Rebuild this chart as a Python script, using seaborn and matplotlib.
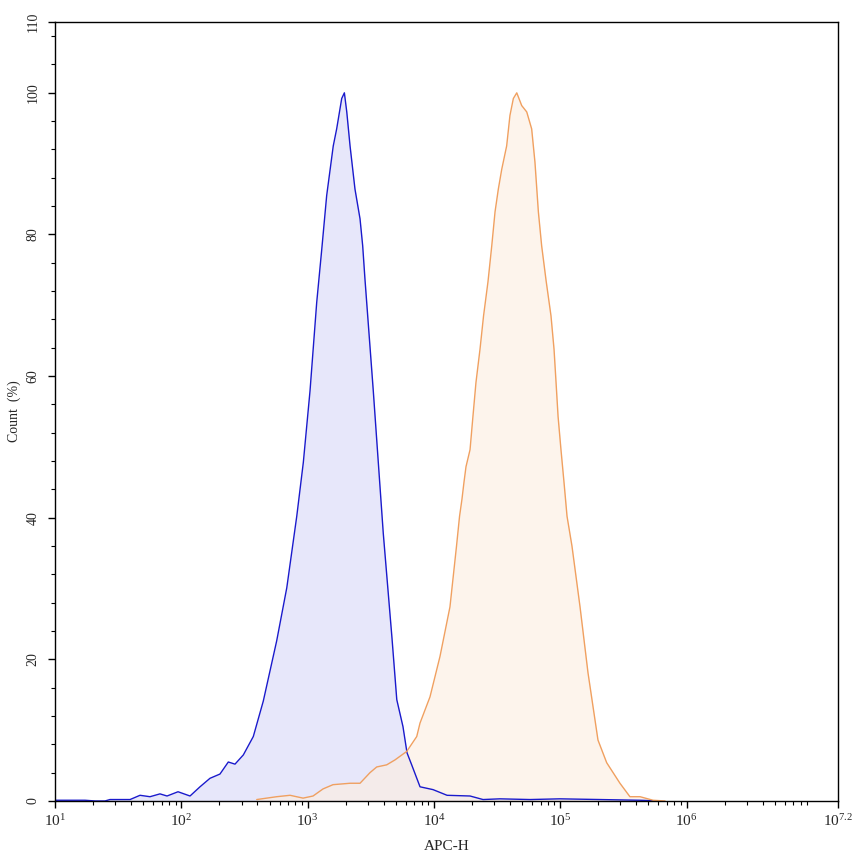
import numpy as np
import pandas as pd
import seaborn as sns
import matplotlib.pyplot as plt
from matplotlib.ticker import FixedLocator, LogLocator, MultipleLocator, NullFormatter

# curve values: log10(APC-H) and Count (%)
blue_log = [1.000, 1.119, 1.238, 1.317, 1.396, 1.435, 1.594, 1.673, 1.752, 1.831, 1.887, 1.974,
            2.069, 2.148, 2.227, 2.306, 2.372, 2.425, 2.491, 2.570, 2.649, 2.755, 2.835, 2.914,
            2.966, 3.019, 3.072, 3.112, 3.151, 3.203, 3.230, 3.270, 3.291, 3.310, 3.336, 3.375,
            3.415, 3.436, 3.454, 3.520, 3.599, 3.668, 3.706, 3.755, 3.787, 3.824, 3.890, 3.993,
            4.104, 4.286, 4.389, 4.523, 4.761, 4.998, 5.315, 5.632, 5.790]
blue_val = [0.1, 0.1, 0.1, 0.0, 0.0, 0.2, 0.2, 0.8, 0.6, 1.0, 0.7, 1.3,
            0.7, 2.0, 3.2, 3.8, 5.5, 5.2, 6.5, 9.1, 14.1, 22.6, 30.1, 40.2,
            47.8, 57.9, 70.4, 77.9, 85.5, 92.5, 94.9, 99.2, 100.0, 97.3, 92.5, 86.4,
            82.2, 78.4, 73.7, 57.9, 37.8, 23.0, 14.3, 10.5, 6.8, 5.1, 2.0, 1.6,
            0.8, 0.7, 0.2, 0.3, 0.2, 0.3, 0.2, 0.1, 0.0]

orange_log = [2.597, 2.755, 2.861, 2.964, 3.043, 3.122, 3.201, 3.336, 3.415, 3.494, 3.547, 3.626,
              3.692, 3.785, 3.864, 3.890, 3.969, 4.048, 4.127, 4.179, 4.203, 4.222, 4.238, 4.254,
              4.286, 4.309, 4.333, 4.365, 4.393, 4.428, 4.458, 4.484, 4.510, 4.537, 4.576, 4.602,
              4.629, 4.656, 4.695, 4.735, 4.774, 4.800, 4.827, 4.853, 4.888, 4.927, 4.951, 4.967,
              4.983, 5.006, 5.030, 5.054, 5.093, 5.157, 5.220, 5.299, 5.368, 5.473, 5.552, 5.632,
              5.735, 5.830]
orange_val = [0.2, 0.6, 0.8, 0.4, 0.7, 1.7, 2.3, 2.5, 2.5, 4.0, 4.8, 5.1,
              5.8, 7.0, 9.1, 11.0, 14.7, 20.4, 27.4, 36.0, 40.2, 42.6, 45.0, 47.2,
              49.6, 54.3, 59.1, 63.8, 68.5, 73.3, 78.4, 83.2, 86.4, 89.2, 92.5, 96.8,
              99.2, 100.0, 98.2, 97.3, 94.9, 90.2, 83.2, 78.4, 73.5, 68.5, 63.8, 59.1,
              54.3, 49.6, 45.0, 40.2, 36.0, 27.4, 18.1, 8.6, 5.4, 2.5, 0.6, 0.6,
              0.1, 0.0]

df_blue = pd.DataFrame({'x': 10 ** np.array(blue_log), 'y': blue_val})
df_orange = pd.DataFrame({'x': 10 ** np.array(orange_log), 'y': orange_val})

sns.set_theme(style="white")
plt.rcParams['font.family'] = ['Liberation Serif', 'DejaVu Serif']
plt.rcParams['mathtext.fontset'] = 'custom'
plt.rcParams['mathtext.rm'] = 'Liberation Serif'
plt.rcParams['mathtext.it'] = 'Liberation Serif'

fig = plt.figure(figsize=(8.53, 8.56), dpi=100)
ax = fig.add_axes([0.0645, 0.0643, 0.918, 0.910])

ax.fill_between(df_blue['x'], df_blue['y'], color='#e6e6fa', alpha=0.95, lw=0)
ax.fill_between(df_orange['x'], df_orange['y'], color='#fdeee0', alpha=0.6, lw=0)
sns.lineplot(data=df_blue, x='x', y='y', color='#1a1acc', lw=1, ax=ax)
sns.lineplot(data=df_orange, x='x', y='y', color='#f0a060', lw=1, ax=ax)

ax.set_xscale('log')
ax.set_xlim(10, 10 ** 7.2)
ax.set_ylim(0, 110)

xt = [10, 100, 1e3, 1e4, 1e5, 1e6, 10 ** 7.2]
ax.xaxis.set_major_locator(FixedLocator(xt))
ax.set_xticklabels([r'$10^{1}$', r'$10^{2}$', r'$10^{3}$', r'$10^{4}$', r'$10^{5}$', r'$10^{6}$', r'$10^{7.2}$'])
ax.xaxis.set_minor_locator(LogLocator(base=10, subs=np.arange(2, 10), numticks=20))
ax.xaxis.set_minor_formatter(NullFormatter())

ax.set_yticks([0, 20, 40, 60, 80, 100, 110])
ax.yaxis.set_minor_locator(MultipleLocator(4))
for lab in ax.get_yticklabels():
    lab.set_rotation(90)
    lab.set_va('center')

ax.tick_params(axis='both', which='major', direction='out', length=5, width=1, color='black',
               labelsize=11, bottom=True, left=True)
ax.tick_params(axis='both', which='minor', direction='out', length=3, width=0.8, color='black',
               bottom=True, left=True)
ax.tick_params(axis='y', which='major', labelsize=10, pad=6)
for s in ax.spines.values():
    s.set_color('black')
    s.set_linewidth(1)

ax.set_xlabel('APC-H', fontsize=11, labelpad=8)
ax.set_ylabel('Count  (%)', fontsize=10, labelpad=4)

fig.savefig('out.png', dpi=100)
